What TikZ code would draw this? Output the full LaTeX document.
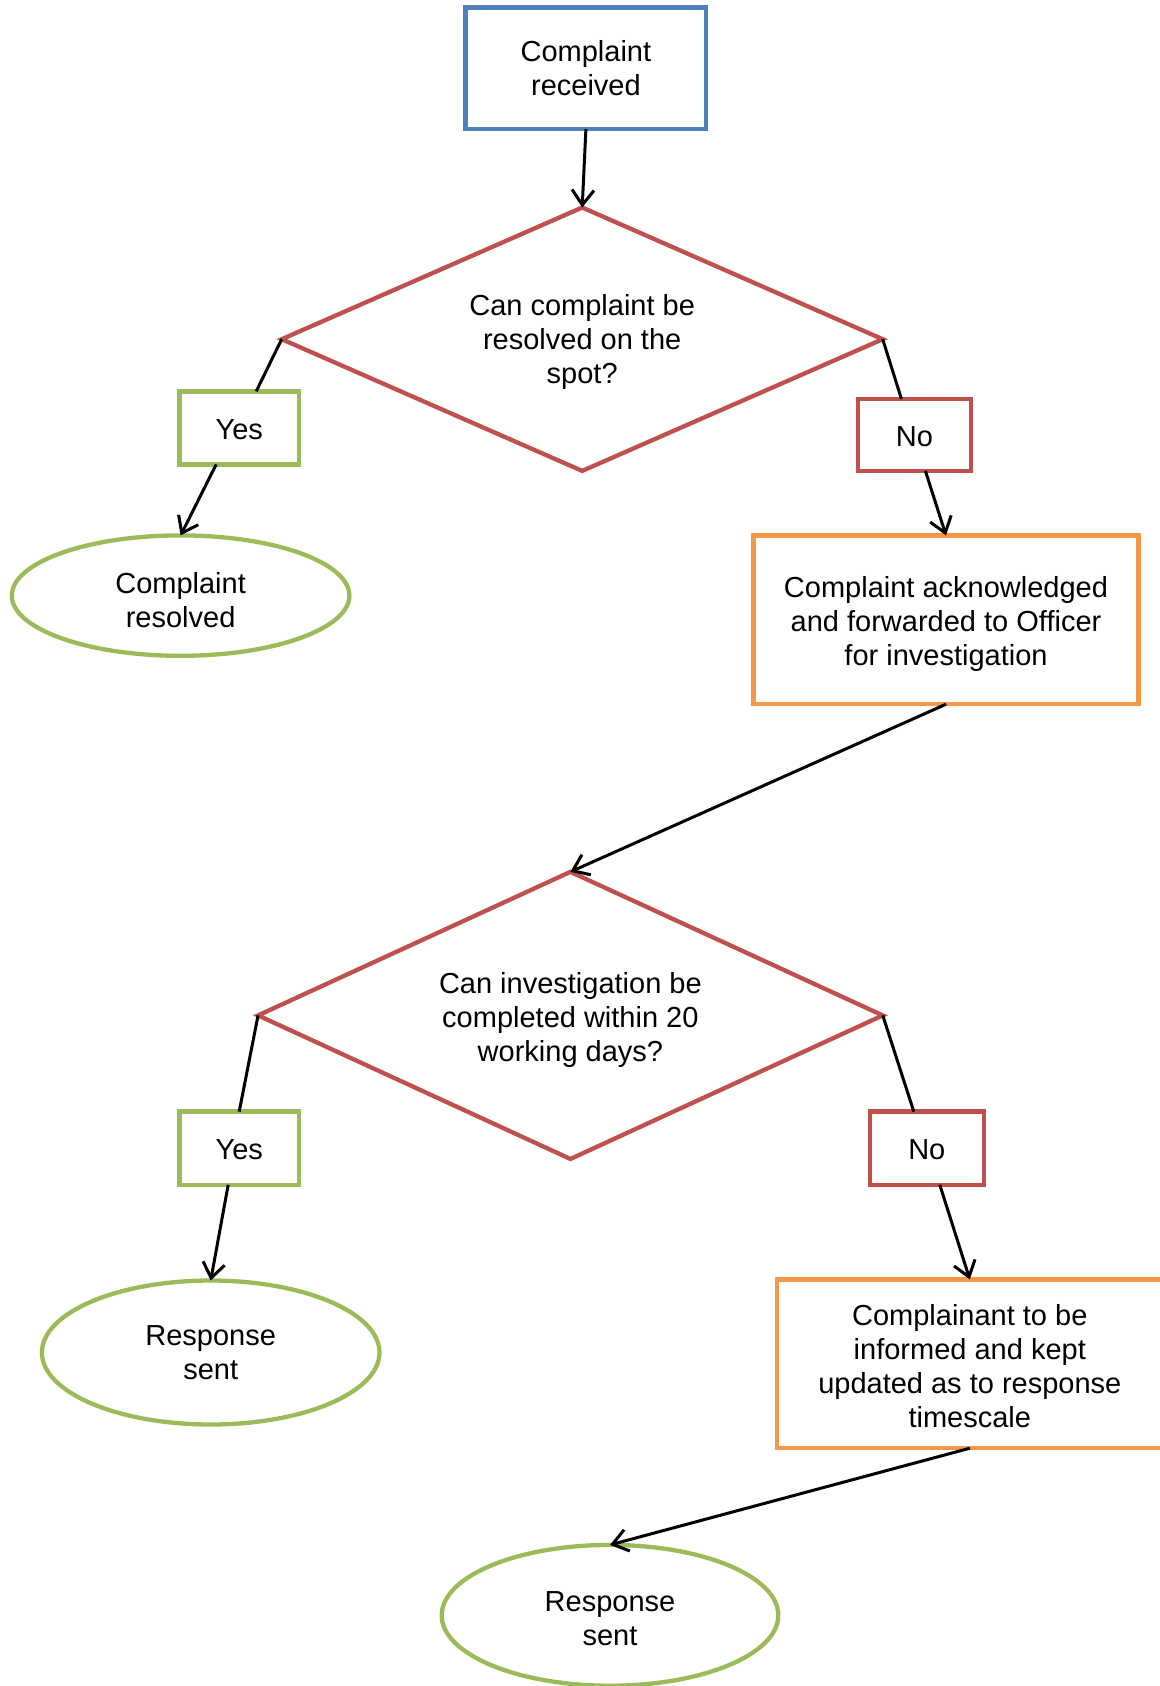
\documentclass[tikz,border=0pt]{standalone}
\usepackage{fontspec}
\setmainfont{Liberation Sans}
\usetikzlibrary{shapes.geometric,arrows.meta,calc}
\definecolor{cblue}{HTML}{4F81BD}
\definecolor{cred}{HTML}{C0504D}
\definecolor{cgreen}{HTML}{9BBB59}
\definecolor{corange}{HTML}{F79646}
\begin{document}
\begin{tikzpicture}[x=1pt,y=-1pt,
  every node/.style={font=\fontsize{29}{34}\selectfont, align=center, inner sep=0pt, outer sep=0pt, line width=4.3pt},
  txt/.style n args={2}{label={[yshift=-#1pt, draw=none]center:{#2}}},
  rbox/.style={draw, rectangle},
  dia/.style={draw=cred, diamond, line join=miter},
  ell/.style={draw=cgreen, ellipse},
  conn/.style={line width=3pt, black},
  arr/.style={conn, -{Straight Barb[length=15pt,width=22pt]}}]
\useasboundingbox (0,0) rectangle (1159,1686);

\node[rbox, draw=cblue, minimum width=240.8pt, minimum height=121.5pt, txt={0}{Complaint\\received}] (start) at (585.9,68.3) {};
\node[dia, aspect=2.28, minimum width=601pt, minimum height=263.4pt, txt={3.2}{Can complaint be\\resolved on the\\spot?}] (d1) at (582.2,339.2) {};
\node[rbox, draw=cgreen, minimum width=119.4pt, minimum height=73.1pt, txt={1.6}{Yes}] (yes1) at (239.2,427.9) {};
\node[rbox, draw=cred, minimum width=112.9pt, minimum height=72pt, txt={1.6}{No}] (no1) at (914.4,434.9) {};
\node[ell, minimum width=337.6pt, minimum height=120.4pt, txt={5}{Complaint\\resolved}] (res1) at (180.6,595.6) {};
\node[rbox, draw=corange, minimum width=384.9pt, minimum height=168.8pt, txt={4.3}{Complaint acknowledged\\and forwarded to Officer\\for investigation}] (fwd) at (946,619.8) {};
\node[dia, aspect=2.176, minimum width=624.7pt, minimum height=287.1pt, txt={4.3}{Can investigation be\\completed within 20\\working days?}] (d2) at (570.4,1015.4) {};
\node[rbox, draw=cgreen, minimum width=119.4pt, minimum height=73.2pt, txt={1.6}{Yes}] (yes2) at (239.2,1148.2) {};
\node[rbox, draw=cred, minimum width=113.9pt, minimum height=73.2pt, txt={1.6}{No}] (no2) at (926.8,1148.2) {};
\node[ell, minimum width=337.6pt, minimum height=144pt, txt={0}{Response\\sent}] (res2) at (210.7,1352.5) {};
\node[rbox, draw=corange, minimum width=385pt, minimum height=168.8pt, txt={2.2}{Complainant to be\\informed and kept\\updated as to response\\timescale}] (inform) at (969.8,1363.8) {};
\node[ell, minimum width=336.6pt, minimum height=140.8pt, txt={3.2}{Response\\sent}] (res3) at (610,1615.3) {};

\draw[arr] (start.south) -- (d1.north);
\draw[conn] (d1.west) -- ($(yes1.north)+(17,0)$);
\draw[arr] ($(yes1.south)+(-23,0)$) -- (res1.north);
\draw[conn] (d1.east) -- ($(no1.north)+(-13,0)$);
\draw[arr] ($(no1.south)+(11,0)$) -- (fwd.north);
\draw[arr] (fwd.south) -- (d2.north);
\draw[conn] (d2.west) -- (yes2.north);
\draw[arr] ($(yes2.south)+(-11,0)$) -- (res2.north);
\draw[conn] (d2.east) -- ($(no2.north)+(-13,0)$);
\draw[arr] ($(no2.south)+(13,0)$) -- (inform.north);
\draw[arr] (inform.south) -- (res3.north);
\end{tikzpicture}
\end{document}
